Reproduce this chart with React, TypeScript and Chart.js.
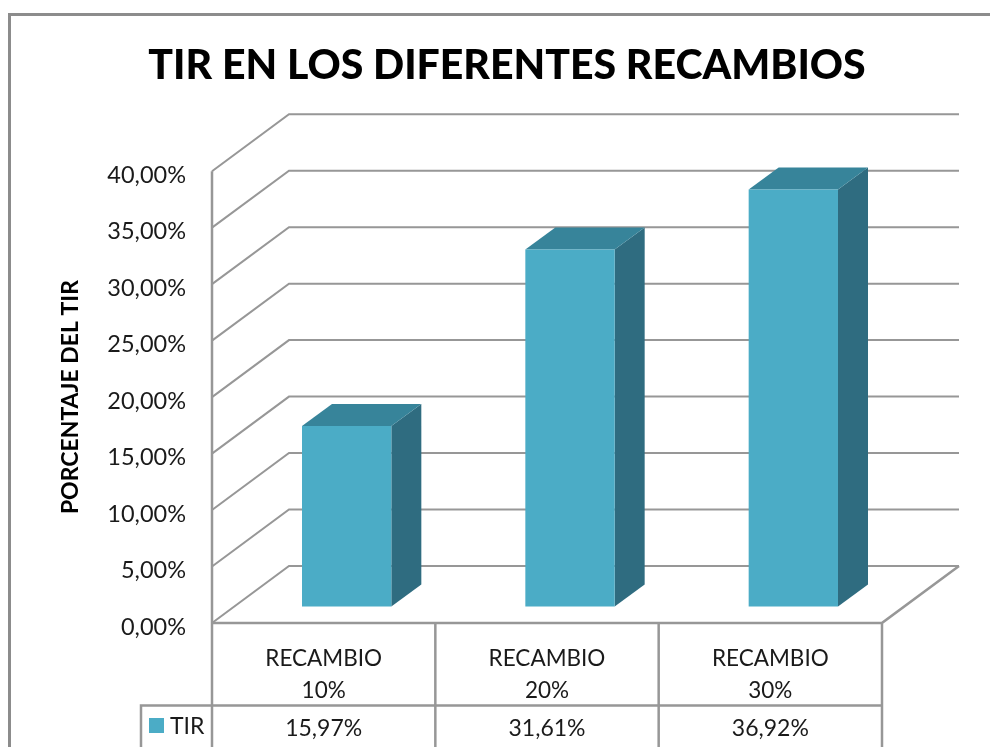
import React, { useEffect, useRef } from "react";
import { Chart, registerables } from "chart.js";

Chart.register(...registerables);

const categories = [["RECAMBIO", "10%"], ["RECAMBIO", "20%"], ["RECAMBIO", "30%"]];
const tirValues = [15.97, 31.61, 36.92];
const seriesName = "TIR";
const chartTitle = "TIR EN LOS DIFERENTES RECAMBIOS";
const axisTitle = "PORCENTAJE DEL TIR";

const FONT = "Lato, Carlito, sans-serif";
const GRID = "#979797";
const FRONT = "#4BACC6";
const TOP = "#37849A";
const SIDE = "#2F6C80";
const fmt = (v: number) => v.toFixed(2).replace(".", ",") + "%";

const wall = { dx: 77, dy: -57 };
const barShift = { dx: 23, dy: -16.5 };
const barDepth = { dx: 30, dy: -22 };

const threeD = {
  id: "threeD",
  afterLayout(chart: any) {
    chart.titleBlock.left = 24;
    chart.titleBlock.right = 990;
  },
  beforeDraw(chart: any) {
    const { ctx } = chart;
    ctx.save();
    ctx.fillStyle = "#ffffff";
    ctx.fillRect(0, 0, chart.width, chart.height);
    ctx.strokeStyle = "#8c8c8c";
    ctx.lineWidth = 3;
    ctx.strokeRect(9.5, 14.5, 1100, 900);
    ctx.restore();
  },
  beforeDatasetsDraw(chart: any) {
    const { ctx, chartArea: a, scales } = chart;
    const y = scales.y;
    ctx.save();
    ctx.strokeStyle = GRID;
    ctx.lineWidth = 2;
    ctx.lineJoin = "miter";
    y.ticks.forEach((t: any) => {
      const p = y.getPixelForValue(t.value);
      ctx.beginPath();
      ctx.moveTo(a.left, p);
      ctx.lineTo(a.left + wall.dx, p + wall.dy);
      ctx.lineTo(a.right + wall.dx, p + wall.dy);
      ctx.stroke();
    });
    const y0 = y.getPixelForValue(0);
    ctx.lineWidth = 2.5;
    ctx.beginPath();
    ctx.moveTo(a.left, a.top);
    ctx.lineTo(a.left, a.bottom + 140);
    ctx.moveTo(a.right + wall.dx, y0 + wall.dy);
    ctx.lineTo(a.right, y0);
    ctx.lineTo(a.right, a.bottom + 140);
    ctx.moveTo(a.left, y0);
    ctx.lineTo(a.right, y0);
    ctx.stroke();

    // data table grid
    const x = scales.x;
    const rowTop = 705.5;
    const band = (a.right - a.left) / categories.length;
    ctx.beginPath();
    ctx.moveTo(141, 760);
    ctx.lineTo(141, rowTop);
    ctx.lineTo(a.right, rowTop);
    for (let i = 1; i < categories.length; i++) {
      ctx.moveTo(a.left + band * i, a.bottom);
      ctx.lineTo(a.left + band * i, 760);
    }
    ctx.stroke();

    // table values + legend key
    ctx.fillStyle = "#1a1a1a";
    ctx.font = `23px ${FONT}`;
    ctx.textAlign = "center";
    ctx.textBaseline = "middle";
    tirValues.forEach((v, i) => ctx.fillText(fmt(v), x.getPixelForValue(i), 729));
    ctx.textAlign = "left";
    ctx.fillText(seriesName, 170, 727);
    ctx.fillStyle = FRONT;
    ctx.fillRect(149, 718, 15, 15);

    // 3D faces of each bar
    chart.getDatasetMeta(0).data.forEach((bar: any) => {
      const p = bar.getProps(["x", "y", "base", "width"], true);
      const l = p.x - p.width / 2 + barShift.dx;
      const r = p.x + p.width / 2 + barShift.dx;
      const t = p.y + barShift.dy;
      const b = p.base + barShift.dy;
      ctx.fillStyle = SIDE;
      ctx.beginPath();
      ctx.moveTo(r, t);
      ctx.lineTo(r + barDepth.dx, t + barDepth.dy);
      ctx.lineTo(r + barDepth.dx, b + barDepth.dy);
      ctx.lineTo(r, b);
      ctx.closePath();
      ctx.fill();
      ctx.fillStyle = TOP;
      ctx.beginPath();
      ctx.moveTo(l, t);
      ctx.lineTo(l + barDepth.dx, t + barDepth.dy);
      ctx.lineTo(r + barDepth.dx, t + barDepth.dy);
      ctx.lineTo(r, t);
      ctx.closePath();
      ctx.fill();
    });
    ctx.restore();
  },
  beforeDatasetDraw(chart: any) {
    chart.ctx.save();
    chart.ctx.translate(barShift.dx, barShift.dy);
  },
  afterDatasetDraw(chart: any) {
    chart.ctx.restore();
  },
};

export default function App() {
  const ref = useRef<HTMLCanvasElement>(null);
  useEffect(() => {
    const chart = new Chart(ref.current!, {
      type: "bar",
      data: {
        labels: categories,
        datasets: [
          {
            label: seriesName,
            data: tirValues,
            backgroundColor: FRONT,
            borderWidth: 0,
            barPercentage: 0.4,
            categoryPercentage: 1,
            clip: false,
          } as any,
        ],
      },
      options: {
        responsive: false,
        animation: false,
        layout: { padding: { left: 0, right: 108, top: 0, bottom: 0 } },
        plugins: {
          legend: { display: false },
          tooltip: { enabled: false },
          title: {
            display: true,
            text: chartTitle,
            color: "#000000",
            font: { family: FONT, size: 41, weight: "900", lineHeight: 1.2 },
            padding: { top: 41, bottom: 81 },
          },
        },
        scales: {
          x: {
            border: { display: false },
            grid: { display: false },
            afterFit(s: any) {
              s.height = 124;
            },
            ticks: {
              color: "#1a1a1a",
              font: { family: FONT, size: 22.5, lineHeight: 1.45 },
              padding: 11,
              maxRotation: 0,
              autoSkip: false,
            },
          },
          y: {
            min: 0,
            max: 40,
            border: { display: false },
            grid: { display: false, drawTicks: false },
            afterFit(s: any) {
              s.width = 212;
            },
            title: {
              display: true,
              text: axisTitle,
              color: "#000000",
              font: { family: FONT, size: 23, weight: "bold" },
              padding: { top: 57, bottom: 0 },
            },
            ticks: {
              stepSize: 5,
              color: "#1a1a1a",
              font: { family: FONT, size: 23.5 },
              padding: 26,
              labelOffset: 4,
              callback: (v: any) => fmt(Number(v)),
            },
          },
        },
      },
      plugins: [threeD],
    } as any);
    return () => chart.destroy();
  }, []);
  return (
    <div style={{ position: "fixed", left: 0, top: 0, width: 990, height: 747 }}>
      <canvas ref={ref} width={990} height={747} style={{ display: "block" }} />
    </div>
  );
}
